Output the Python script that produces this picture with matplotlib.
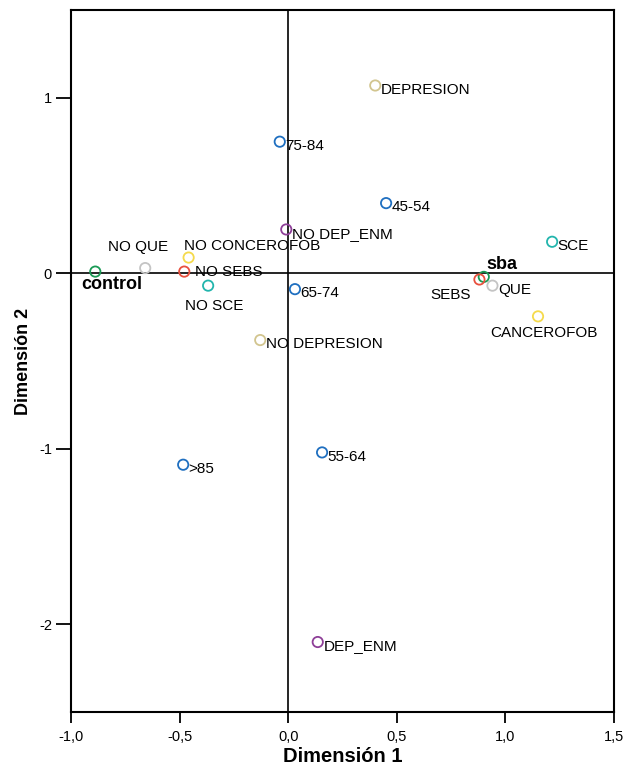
import matplotlib.pyplot as plt

plt.rcParams['font.family'] = ['Liberation Sans', 'DejaVu Sans']

# Puntos de categoria (Dimension 1, Dimension 2)
etiquetas = ['DEPRESION', '75-84', '45-54', 'NO DEP_ENM', 'SCE', 'NO CONCEROFOB',
             'NO QUE', 'control', 'NO SEBS', 'NO SCE', '65-74', 'sba', 'SEBS',
             'QUE', 'CANCEROFOB', 'NO DEPRESION', '55-64', '>85', 'DEP_ENM']
dim1 = [0.40, -0.04, 0.45, -0.01, 1.215, -0.46, -0.66, -0.89, -0.48, -0.37,
        0.03, 0.90, 0.88, 0.94, 1.15, -0.13, 0.155, -0.485, 0.135]
dim2 = [1.07, 0.75, 0.40, 0.25, 0.18, 0.09, 0.03, 0.01, 0.01, -0.07,
        -0.09, -0.02, -0.035, -0.07, -0.245, -0.38, -1.02, -1.09, -2.10]
variable = ['dep', 'edad', 'edad', 'depenm', 'sce', 'cancer', 'que', 'grupo',
            'sebs', 'sce', 'edad', 'grupo', 'sebs', 'que', 'cancer', 'dep',
            'edad', 'edad', 'depenm']

colores = {'edad': '#1f6fc0', 'dep': '#d2c58f', 'depenm': '#8e3f98',
           'sce': '#22b5ad', 'cancer': '#f5da4c', 'que': '#c4c4c4',
           'grupo': '#1a9a55', 'sebs': '#e8503e'}

# desplazamiento del texto (puntos) y alineacion
posicion = {
    'NO QUE': (-5, 15, 'center'),
    'NO CONCEROFOB': (-3.5, 8, 'left'),
    'control': (-10, -9.5, 'left'),
    'NO SCE': (-17, -15, 'left'),
    'sba': (2, 9, 'left'),
    'SEBS': (-6, -11, 'right'),
    'CANCEROFOB': (4, -12, 'center'),
    'NO SEBS': (8, 0, 'left'),
}
negrita = ['control', 'sba']

fig = plt.figure(figsize=(6.32, 7.7), dpi=100)
ax = fig.add_axes([0.113, 0.075, 0.8585, 0.912])

for x, y, et, v in zip(dim1, dim2, etiquetas, variable):
    ax.scatter(x, y, s=55, facecolors='none', edgecolors=colores[v],
               linewidths=1.3, zorder=3)
    dx, dy, ha = posicion.get(et, (4, -3, 'left'))
    if et in negrita:
        ax.annotate(et, (x, y), xytext=(dx, dy), textcoords='offset points',
                    ha=ha, va='center', fontsize=13, fontweight='bold')
    else:
        ax.annotate(et, (x, y), xytext=(dx, dy), textcoords='offset points',
                    ha=ha, va='center', fontsize=11)

ax.axhline(0, color='black', lw=1.2, zorder=1)
ax.axvline(0, color='black', lw=1.2, zorder=1)

ax.set_xlim(-1.0, 1.5)
ax.set_ylim(-2.5, 1.5)
ax.set_xticks([-1.0, -0.5, 0.0, 0.5, 1.0, 1.5])
ax.set_xticklabels(['-1,0', '-0,5', '0,0', '0,5', '1,0', '1,5'])
ax.set_yticks([1, 0, -1, -2])
ax.set_yticklabels(['1', '0', '-1', '-2'])
ax.tick_params(axis='x', direction='out', length=8, width=1.3, labelsize=10.5, pad=5)
ax.tick_params(axis='y', direction='out', length=11, width=1.3, labelsize=10.5, pad=3)
for s in ax.spines.values():
    s.set_linewidth(1.5)

ax.set_xlabel('Dimensión 1', fontsize=14.5, fontweight='bold', labelpad=2)
ax.set_ylabel('Dimensión 2', fontsize=13, fontweight='bold', labelpad=5)

plt.savefig('out.png', dpi=100)
